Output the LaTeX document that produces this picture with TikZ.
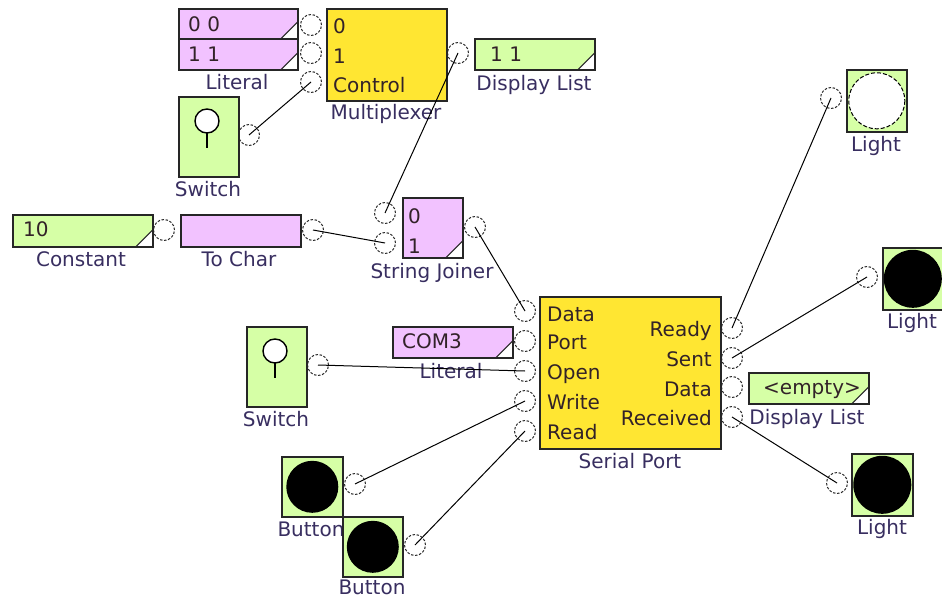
\documentclass[tikz,border=0pt]{standalone}
\usepackage{fontspec}
\setmainfont{DejaVu Sans}
\usetikzlibrary{positioning}
\definecolor{litpink}{RGB}{242,194,255}
\definecolor{valgreen}{RGB}{214,255,166}
\definecolor{blkyellow}{RGB}{255,230,50}
\definecolor{captext}{RGB}{56,46,96}
\definecolor{boxtext}{RGB}{50,34,40}

\begin{document}
\begin{tikzpicture}[x=1pt,y=-1pt,
  blk/.style={draw=black!85,line width=1.6pt,anchor=north west,inner sep=0pt},
  cutcorner/.style={path picture={\filldraw[fill=white,draw=black!85,line width=1pt]
      (path picture bounding box.south east) -- ++(-17pt,0pt) -- ++(17pt,17pt) -- cycle;}},
  port/.style={circle,draw=black!85,line width=1pt,dash pattern=on 2.5pt off 1.6pt,
    minimum size=21pt,inner sep=0pt},
  wire/.style={line width=1pt},
  blklabel/.style={text=captext,font=\fontsize{20}{23}\selectfont,anchor=base,inner sep=0pt},
  pintext/.style={text=boxtext,font=\fontsize{20}{23}\selectfont,anchor=base west,inner sep=0pt},
  pintextr/.style={pintext,anchor=base east}]
  \useasboundingbox (0,0) rectangle (942,602);

  % literals + multiplexer
  \node[blk,fill=litpink,minimum width=119,minimum height=30,cutcorner] (lit0) at (178,8) {};
  \node[blk,fill=litpink,minimum width=119,minimum height=31,cutcorner] (lit1) at (178,38) {};
  \node[pintext] (lit0t) at (188,31.5) {0 0};
  \node[pintext] (lit1t) at (188,61.5) {1 1};
  \node[blklabel] (litl) at (237,89.5) {Literal};
  \node[blk,fill=blkyellow,minimum width=120,minimum height=92] (mux) at (326,8) {};
  \node[pintext] (mux0t) at (333,33.5) {0};
  \node[pintext] (mux1t) at (333,63.5) {1};
  \node[pintext] (muxct) at (333,92.5) {Control};
  \node[blklabel] (muxl) at (386,119.5) {Multiplexer};
  \node[blk,fill=valgreen,minimum width=120,minimum height=31,cutcorner] (dl1) at (474,38) {};
  \node[pintext] (dl1t) at (490,61.5) {1 1};
  \node[blklabel] (dl1l) at (534,90) {Display List};

  % switch on the control input
  \node[blk,fill=valgreen,minimum width=60,minimum height=80] (sw1) at (178,96) {};
  \draw[line width=1.4pt,fill=white] (sw1.north west) ++(29,25) circle (12);
  \draw[line width=1.4pt] (sw1.north west) ++(29,37) -- ++(0,15);
  \node[blklabel] (sw1l) at (208,196.5) {Switch};

  % constant -> to char -> string joiner
  \node[blk,fill=valgreen,minimum width=140,minimum height=32,cutcorner] (cst) at (12,214) {};
  \node[pintext] (cstt) at (23,236.5) {10};
  \node[blklabel] (cstl) at (81,266.5) {Constant};
  \node[blk,fill=litpink,minimum width=120,minimum height=32] (tch) at (180,214) {};
  \node[blklabel] (tchl) at (239,266.5) {To Char};
  \node[blk,fill=litpink,minimum width=60,minimum height=60,cutcorner] (sj) at (402,197) {};
  \node[pintext] (sj0t) at (408,223) {0};
  \node[pintext] (sj1t) at (408,253) {1};
  \node[blklabel] (sjl) at (432,278.5) {String Joiner};

  % serial port
  \node[blk,fill=blkyellow,minimum width=181,minimum height=152] (sp) at (539,296) {};
  \foreach \t/\y in {Data/321.5,Port/349.5,Open/379.5,Write/409.5,Read/439.5}
    \node[pintext] at (547,\y) {\t};
  \foreach \t/\y in {Ready/336.5,Sent/366.5,Data/396.5,Received/425.5}
    \node[pintextr] at (712,\y) {\t};
  \node[blklabel] (spl) at (630,468.5) {Serial Port};
  \node[blk,fill=litpink,minimum width=120,minimum height=31,cutcorner] (com) at (392,326) {};
  \node[pintext] (comt) at (402,348.5) {COM3};
  \node[blklabel] (coml) at (451,378.5) {Literal};

  \node[blk,fill=valgreen,minimum width=60,minimum height=80] (sw2) at (246,326) {};
  \draw[line width=1.4pt,fill=white] (sw2.north west) ++(29,25) circle (12);
  \draw[line width=1.4pt] (sw2.north west) ++(29,37) -- ++(0,15);
  \node[blklabel] (sw2l) at (276,426.5) {Switch};

  % buttons
  \node[blk,fill=valgreen,minimum width=61,minimum height=60] (bt1) at (281,456) {};
  \fill (bt1.center) circle (26);
  \node[blklabel] (bt1l) at (311,536.5) {Button};
  \node[blk,fill=valgreen,minimum width=60,minimum height=60] (bt2) at (342,516) {};
  \fill (bt2.center) circle (26);
  \node[blklabel] (bt2l) at (372,594.5) {Button};

  % outputs
  \node[blk,fill=valgreen,minimum width=60,minimum height=62] (lt1) at (846,69) {};
  \draw[fill=white,line width=1pt,dash pattern=on 4pt off 2pt] (lt1.center) circle (28);
  \node[blklabel] (lt1l) at (876,151.5) {Light};
  \node[blk,fill=valgreen,minimum width=60,minimum height=62] (lt2) at (882,247) {};
  \fill (lt2.center) circle (29);
  \node[blklabel] (lt2l) at (912,328) {Light};
  \node[blk,fill=valgreen,minimum width=120,minimum height=31,cutcorner] (dl2) at (748,372) {};
  \node[pintext] (dl2t) at (763,394.5) {<empty>};
  \node[blklabel] (dl2l) at (807,424.5) {Display List};
  \node[blk,fill=valgreen,minimum width=61,minimum height=62] (lt3) at (851,453) {};
  \fill (lt3.center) circle (29);
  \node[blklabel] (lt3l) at (882,534.5) {Light};

  % ports
  \node[port] (mux0) at (311,25) {};
  \node[port] (mux1) at (311,53) {};
  \node[port] (muxc) at (311,82) {};
  \node[port] (muxo) at (458,53) {};
  \node[port] (sw1o) at (249,135) {};
  \node[port] (csto) at (164,230) {};
  \node[port] (tcho) at (313,230) {};
  \node[port] (sj0) at (385,213) {};
  \node[port] (sj1) at (385,243) {};
  \node[port] (sjo) at (475,227) {};
  \node[port] (spdata) at (525,311) {};
  \node[port] (spport) at (525,341) {};
  \node[port] (spopen) at (525,371) {};
  \node[port] (spwrite) at (525,401) {};
  \node[port] (spread) at (525,431) {};
  \node[port] (spready) at (732,328) {};
  \node[port] (spsent) at (732,358) {};
  \node[port] (spdout) at (732,387) {};
  \node[port] (sprecv) at (732,417) {};
  \node[port] (sw2o) at (318,365) {};
  \node[port] (bt1o) at (355,484) {};
  \node[port] (bt2o) at (415,545) {};
  \node[port] (lt1i) at (831,98) {};
  \node[port] (lt2i) at (867,277) {};
  \node[port] (lt3i) at (837,483) {};

  % wires
  \draw[wire] (sw1o.center) -- (muxc.center);
  \draw[wire] (muxo.center) -- (sj0.center);
  \draw[wire] (tcho.center) -- (sj1.center);
  \draw[wire] (sjo.center) -- (spdata.center);
  \draw[wire] (sw2o.center) -- (spopen.center);
  \draw[wire] (bt1o.center) -- (spwrite.center);
  \draw[wire] (bt2o.center) -- (spread.center);
  \draw[wire] (spready.center) -- (lt1i.center);
  \draw[wire] (spsent.center) -- (lt2i.center);
  \draw[wire] (sprecv.center) -- (lt3i.center);
\end{tikzpicture}
\end{document}
